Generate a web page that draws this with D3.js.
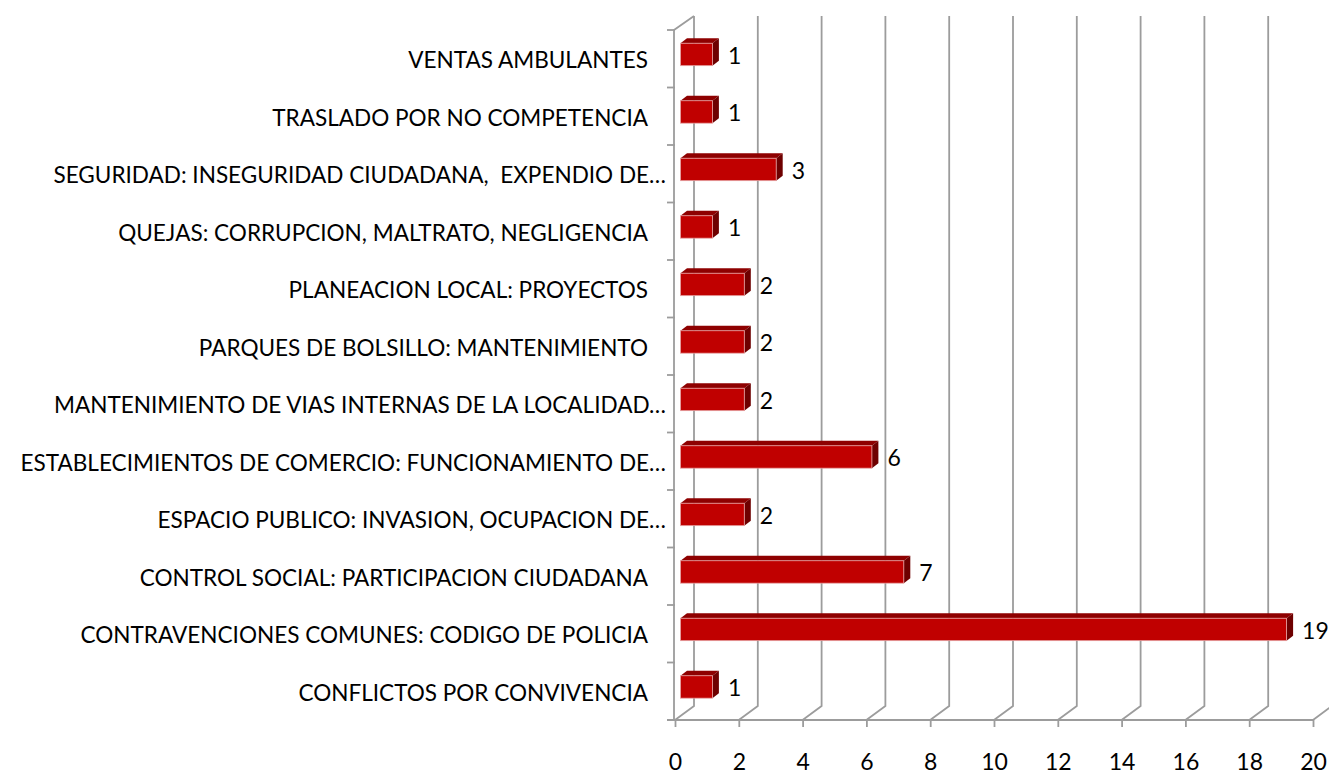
<!DOCTYPE html>
<html>
<head>
<meta charset="utf-8">
<script src="https://cdn.jsdelivr.net/npm/d3@7"></script>
<style>
body { margin: 0; background: #fff; }
svg { display: block; }
text { font-family: Lato, "Open Sans", sans-serif; fill: #000; white-space: pre; }
</style>
</head>
<body>
<svg id="chart" width="1329" height="774"></svg>
<script>
// categories bottom -> top (Excel order)
var categories = [
	"CONFLICTOS POR CONVIVENCIA",
	"CONTRAVENCIONES COMUNES: CODIGO DE POLICIA",
	"CONTROL SOCIAL: PARTICIPACION CIUDADANA",
	"ESPACIO PUBLICO: INVASION, OCUPACION DE…",
	"ESTABLECIMIENTOS DE COMERCIO: FUNCIONAMIENTO DE…",
	"MANTENIMIENTO DE VIAS INTERNAS DE LA LOCALIDAD…",
	"PARQUES DE BOLSILLO: MANTENIMIENTO",
	"PLANEACION LOCAL: PROYECTOS",
	"QUEJAS: CORRUPCION, MALTRATO, NEGLIGENCIA",
	"SEGURIDAD: INSEGURIDAD CIUDADANA,  EXPENDIO DE…",
	"TRASLADO POR NO COMPETENCIA",
	"VENTAS AMBULANTES"
];
var values = [1, 19, 7, 2, 6, 2, 2, 2, 1, 3, 1, 1];
var xTicks = [0, 2, 4, 6, 8, 10, 12, 14, 16, 18, 20];

var data = categories.map((c, i) => ({cat: c, value: values[i]}));

var svg = d3.select("#chart"),
	margin = {top: 30, left: 675, bottom: 54, right: 16},
	width = +svg.attr("width"),
	height = +svg.attr("height");

// depth of the 3d box
var depth = {x: 19, y: -14};
// bar sits inside the depth
var barFront = {x: 5.5, y: -4.3}, barDepth = {x: 6.5, y: -5};

var x = d3.scaleLinear()
	.domain([0, 20])
	.range([margin.left, width - margin.right]);

var y = d3.scaleBand()
	.domain(categories)
	.range([height - margin.bottom, margin.top]);

var y0 = height - margin.bottom, yTop = margin.top;
var fontSize = 22, numSize = 23;

// gridlines on back wall + floor diagonals
var grid = svg.append("g").attr("class", "grid");
grid.selectAll(".gl")
	.data(xTicks)
	.enter().append("polyline")
	.attr("class", "gl")
	.attr("fill", "none")
	.attr("stroke", "#9c9c9c")
	.attr("stroke-width", 1.8)
	.attr("points", d => [
		[x(d), y0],
		[x(d) + depth.x, y0 + depth.y],
		[x(d) + depth.x, yTop + depth.y]
	].join(" "));

// left wall: front vertical + top diagonal
grid.append("polyline")
	.attr("fill", "none")
	.attr("stroke", "#9c9c9c")
	.attr("stroke-width", 1.8)
	.attr("points", [[x(0) + depth.x, yTop + depth.y], [x(0) - 1, yTop], [x(0) - 1, y0]].join(" "));

// bottom axis
var xAxis = svg.append("g")
	.attr("class", "x-axis")
	.attr("transform", `translate(0,${y0})`)
	.call(d3.axisBottom(x).tickValues(xTicks).tickSize(7).tickPadding(27).tickSizeOuter(0));
xAxis.select(".domain").attr("stroke", "#9c9c9c").attr("stroke-width", 1.8)
	.attr("d", `M${x(0) - 8},0H${x(20)}`);
xAxis.selectAll(".tick line").attr("stroke", "#9c9c9c").attr("stroke-width", 1.8);
xAxis.selectAll(".tick text")
	.style("font-family", "Lato, 'Open Sans', sans-serif")
	.style("font-size", numSize + "px")
	.attr("fill", "#000");

// category boundary ticks on left axis
var bounds = categories.map(c => y(c)).concat([y0]);
svg.selectAll(".ytick")
	.data(bounds)
	.enter().append("line")
	.attr("class", "ytick")
	.attr("stroke", "#9c9c9c")
	.attr("stroke-width", 1.8)
	.attr("x1", x(0) - 8)
	.attr("x2", x(0))
	.attr("y1", d => d)
	.attr("y2", d => d);

// bars
var bh = y.bandwidth() * 0.39;
var bars = svg.selectAll(".bar")
	.data(data)
	.enter().append("g")
	.attr("class", "bar");

function fx(d) { return x(0) + barFront.x; }
function fy(d) { return y(d.cat) + y.bandwidth() / 2 + barFront.y - bh / 2; }
function fw(d) { return x(d.value) - x(0); }

// top face
bars.append("polygon")
	.attr("fill", "#8e0000")
	.attr("points", d => {
		var x1 = fx(d), x2 = fx(d) + fw(d), t = fy(d);
		return [[x1, t], [x2, t], [x2 + barDepth.x, t + barDepth.y], [x1 + barDepth.x, t + barDepth.y]].join(" ");
	});
// side face
bars.append("polygon")
	.attr("fill", "#6e0000")
	.attr("points", d => {
		var x2 = fx(d) + fw(d), t = fy(d);
		return [[x2, t], [x2 + barDepth.x, t + barDepth.y], [x2 + barDepth.x, t + bh + barDepth.y], [x2, t + bh]].join(" ");
	});
// front face
bars.append("rect")
	.attr("fill", "#c00000")
	.attr("stroke", "#e7a3a3")
	.attr("stroke-width", 0.8)
	.attr("x", fx)
	.attr("y", fy)
	.attr("width", fw)
	.attr("height", bh);

// value labels
svg.selectAll(".labels")
	.data(data)
	.enter().append("text")
	.attr("class", "labels")
	.attr("x", d => fx(d) + fw(d) + barDepth.x + 9)
	.attr("y", d => fy(d) + bh / 2 + 1)
	.attr("dy", "0.36em")
	.style("font-size", numSize + "px")
	.text(d => d.value);

// category labels
svg.selectAll(".cat")
	.data(data)
	.enter().append("text")
	.attr("class", "cat")
	.attr("text-anchor", "end")
	.attr("x", d => d.cat.endsWith("…") ? 666 : 648)
	.attr("y", d => y(d.cat) + y.bandwidth() / 2 + 1.5)
	.attr("dy", "0.36em")
	.style("font-size", fontSize + "px")
	.text(d => d.cat);

// fit label font width to reference (Calibri is narrower)
var probe = svg.selectAll(".cat").filter(d => d.cat.startsWith("CONTRAVENCIONES")).node();
var w = probe.getComputedTextLength();
var fs = fontSize * 568 / w;
svg.selectAll(".cat").style("font-size", fs + "px");
</script>
</body>
</html>
